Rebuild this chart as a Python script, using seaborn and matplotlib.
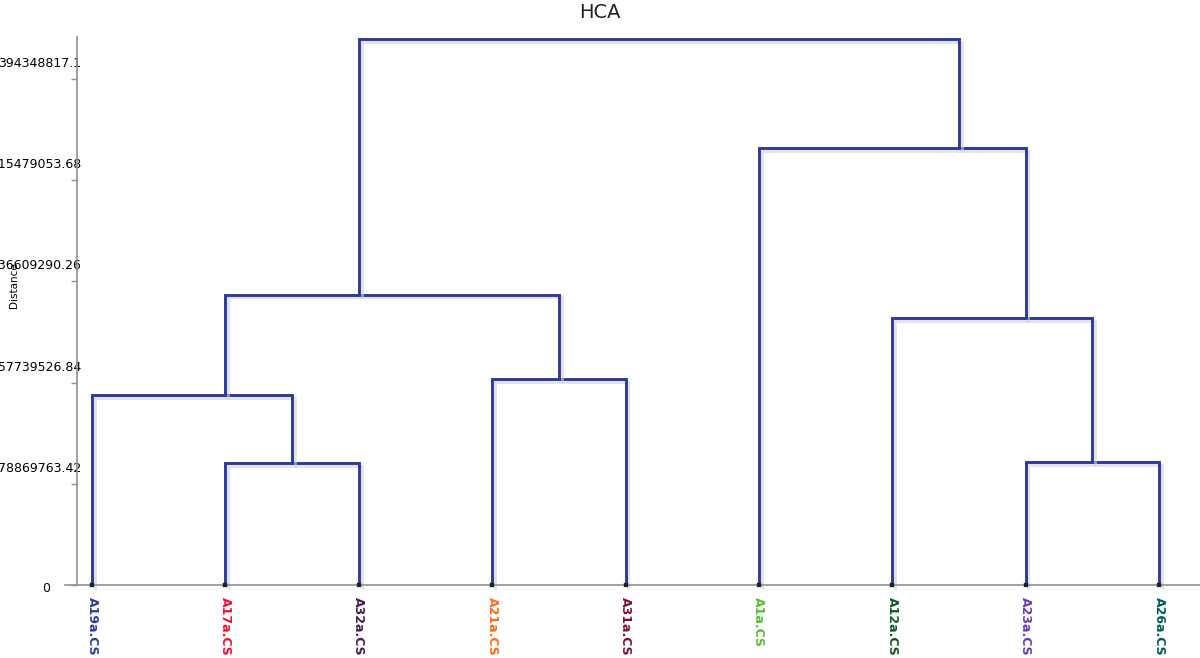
import numpy as np
import pandas as pd
import matplotlib
matplotlib.use("Agg")
import matplotlib.pyplot as plt
import matplotlib.transforms as mtransforms
import matplotlib.patheffects as pe
import seaborn as sns

# ---------------- data ----------------
leaves = ["A19a.CS", "A17a.CS", "A32a.CS", "A21a.CS", "A31a.CS",
          "A1a.CS", "A12a.CS", "A23a.CS", "A26a.CS"]
leaf_colors = ["#2b3a9b", "#ee1133", "#4a1a50", "#ff6a10", "#7a1030",
               "#55c030", "#0a5a20", "#6a3ab0", "#005a5a"]
# merges: (left cluster, right cluster, height); clusters are leaf names or merge ids "m0".."m7"
merge_left = ["A17a.CS", "A19a.CS", "A21a.CS", "m1", "A23a.CS", "A12a.CS", "A1a.CS", "m3"]
merge_right = ["A32a.CS", "m0", "A31a.CS", "m2", "A26a.CS", "m4", "m5", "m6"]
merge_height = [94.9e6, 147.8e6, 160.2e6, 226.3e6, 95.7e6, 207.7e6, 340.7e6, 425.5e6]
tick_values = [0, 78869763.42, 157739526.84, 236609290.26, 315479053.68, 394348817.1]
tick_labels = ["0", "78869763.42", "157739526.84", "236609290.26", "315479053.68", "394348817.1"]

# ---------------- build dendrogram segments ----------------
leaf_pos = {name: i for i, name in enumerate(leaves)}
members = {name: [leaf_pos[name]] for name in leaves}
height = {name: 0.0 for name in leaves}
rows = []
for k, (a, b, h) in enumerate(zip(merge_left, merge_right, merge_height)):
    xa = np.mean(members[a]); xb = np.mean(members[b])
    for px, py in [(xa, height[a]), (xa, h), (xb, h), (xb, height[b])]:
        rows.append({"link": k, "x": px, "y": py})
    mid = f"m{k}"
    members[mid] = members[a] + members[b]
    height[mid] = h
df = pd.DataFrame(rows)

# ---------------- figure ----------------
sns.set_theme(style="white")
plt.rcParams["font.family"] = ["DejaVu Sans"]
W, H = 1200, 658
fig = plt.figure(figsize=(12, 6.58), dpi=100)
ax_left_px = 65
ax = fig.add_axes([ax_left_px / W, 1 - 585 / H, 1 - ax_left_px / W, (585 - 37) / H])

line_color = "#2e3a9a"
sns.lineplot(data=df, x="x", y="y", units="link", estimator=None, sort=False,
             color=line_color, linewidth=2.1, ax=ax, legend=False,
             path_effects=[pe.SimpleLineShadow(offset=(2, -2), shadow_color="#d0d0e2", alpha=0.6),
                           pe.Normal()])
for ln in ax.get_lines():
    ln.set_clip_on(False)
    ln.set_solid_joinstyle("miter")

leaf_df = pd.DataFrame({"x": np.arange(len(leaves)), "y": np.zeros(len(leaves))})
sns.scatterplot(data=leaf_df, x="x", y="y", marker="s", s=12, color="#202020",
                edgecolor="#202020", ax=ax, zorder=5, clip_on=False, legend=False)

spacing = (1159 - 92) / 8
ax.set_xlim(-(92 - ax_left_px) / spacing, 8 + (1200 - 1159) / spacing)
ax.set_ylim(0, 427e6)

# spines
for s in ["top", "right"]:
    ax.spines[s].set_visible(False)
ax.spines["left"].set_position(("data", -(92 - 77) / spacing))
ax.spines["left"].set_color("#909090")
ax.spines["bottom"].set_color("#909090")
ax.spines["left"].set_linewidth(1.2)
ax.spines["bottom"].set_linewidth(1.2)

# y ticks
ax.set_yticks(tick_values)
ax.set_yticklabels(tick_labels)
ax.tick_params(axis="y", left=True, length=4, width=1, color="#909090",
               pad=-7.2, labelsize=9, labelcolor="black")
for lbl, v in zip(ax.get_yticklabels(), tick_values):
    if v == 0:
        off = mtransforms.ScaledTranslation(-0.31, -0.02, fig.dpi_scale_trans)
    else:
        off = mtransforms.ScaledTranslation(0, 0.17, fig.dpi_scale_trans)
    lbl.set_transform(lbl.get_transform() + off)

# x ticks (leaf labels)
ax.set_xticks(np.arange(len(leaves)))
ax.set_xticklabels(leaves, rotation=270, fontsize=9, fontweight="bold", va="top", ha="center")
ax.tick_params(axis="x", bottom=False, length=0, pad=8.6)
for lbl, c in zip(ax.get_xticklabels(), leaf_colors):
    lbl.set_color(c)

ax.set_xlabel("")
ax.set_ylabel("")
ax.grid(False)

fig.text(600 / W, 1 - 12 / H, "HCA", ha="center", va="center", fontsize=14, color="#202020")
fig.text(14 / W, 1 - 285 / H, "Distance", rotation=90, ha="center", va="center",
         fontsize=7.5, color="black")

fig.savefig("out.png", dpi=100)
